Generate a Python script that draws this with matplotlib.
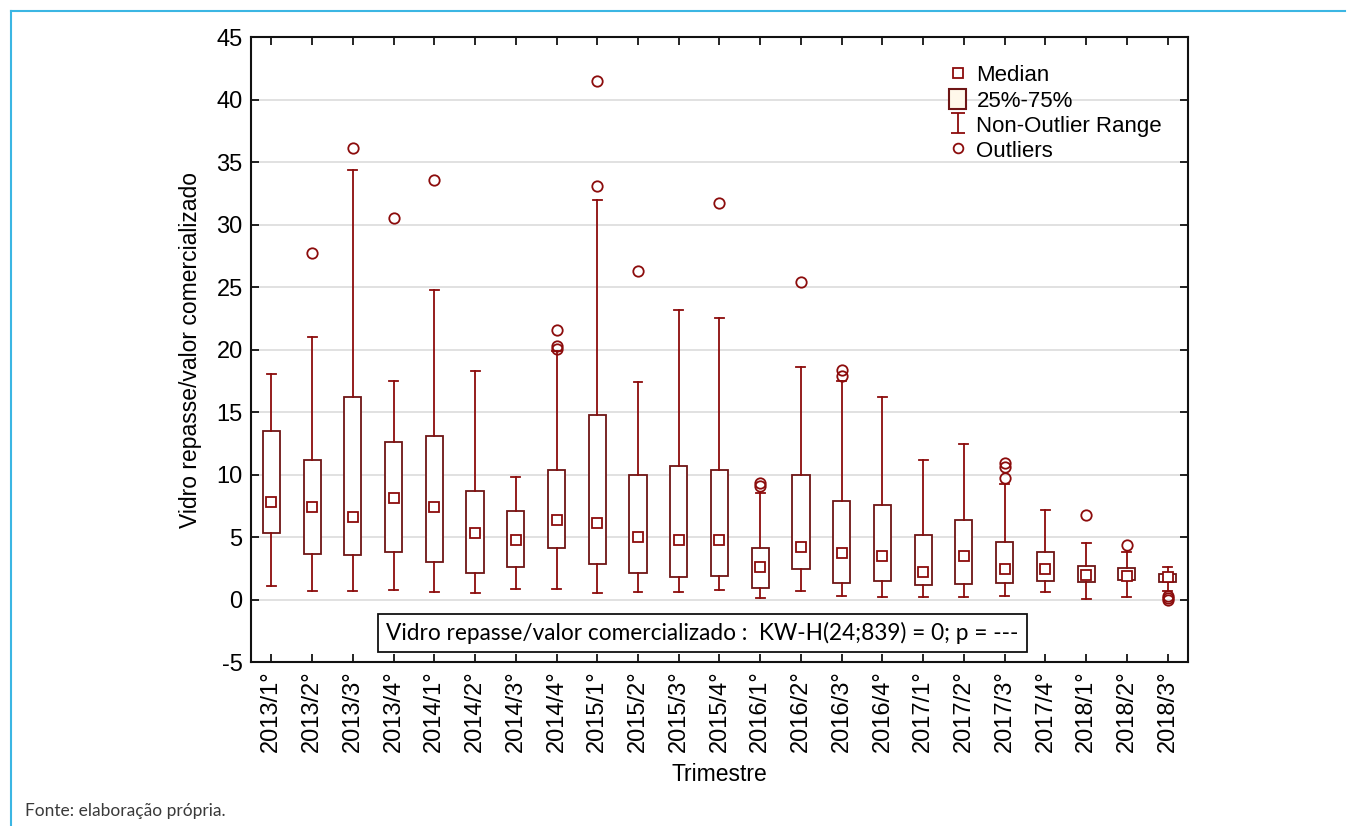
import matplotlib
matplotlib.use("Agg")
import matplotlib.pyplot as plt
from matplotlib.lines import Line2D
from matplotlib.patches import Patch
from matplotlib.path import Path

# quarters
labels = ['2013/1°', '2013/2°', '2013/3°', '2013/4°', '2014/1°', '2014/2°', '2014/3°',
          '2014/4°', '2015/1°', '2015/2°', '2015/3°', '2015/4°', '2016/1°', '2016/2°',
          '2016/3°', '2016/4°', '2017/1°', '2017/2°', '2017/3°', '2017/4°', '2018/1°',
          '2018/2°', '2018/3°']

medians = [7.78, 7.39, 6.63, 8.14, 7.39, 5.36, 4.74, 6.37, 6.11, 5.0, 4.74, 4.74,
           2.61, 4.2, 3.69, 3.46, 2.19, 3.46, 2.42, 2.47, 1.96, 1.91, 1.77]
q1 = [5.33, 3.66, 3.53, 3.82, 3.0, 2.16, 2.61, 4.12, 2.88, 2.16, 1.83, 1.9,
      0.92, 2.42, 1.3, 1.5, 1.18, 1.27, 1.36, 1.48, 1.4, 1.56, 1.42]
q3 = [13.5, 11.18, 16.24, 12.58, 13.1, 8.7, 7.06, 10.4, 14.8, 9.97, 10.65, 10.36,
      4.12, 9.93, 7.9, 7.6, 5.2, 6.34, 4.6, 3.82, 2.69, 2.53, 2.04]
whis_lo = [1.1, 0.65, 0.65, 0.75, 0.62, 0.49, 0.82, 0.85, 0.56, 0.62, 0.62, 0.75,
           0.1, 0.69, 0.26, 0.23, 0.23, 0.2, 0.29, 0.59, 0.03, 0.22, 0.72]
whis_hi = [18.07, 21.0, 34.4, 17.45, 24.8, 18.3, 9.77, 19.9, 31.96, 17.4, 23.2, 22.5,
           8.5, 18.6, 17.45, 16.2, 11.2, 12.45, 9.26, 7.15, 4.52, 3.79, 2.58]
outliers = [[], [27.7], [36.1], [30.5], [33.6], [], [], [21.6, 20.3, 20.05],
            [41.5, 33.1], [26.3], [], [31.7], [9.35, 9.05], [25.4], [18.4, 17.9],
            [], [], [], [10.93, 10.61, 9.73], [], [6.75], [4.35], [0.3, 0.12, 0.0]]

red = '#8c0c0c'
boxc = '#6e1515'

plt.rcParams['font.family'] = ['Liberation Sans', 'DejaVu Sans']
plt.rcParams['axes.unicode_minus'] = False

fig = plt.figure(figsize=(13.58, 8.26), dpi=100)
ax = fig.add_axes([0.1848, 0.1985, 0.69, 0.7567])

stats = []
for i in range(len(labels)):
    stats.append(dict(med=medians[i], q1=q1[i], q3=q3[i], whislo=whis_lo[i],
                      whishi=whis_hi[i], fliers=outliers[i], label=labels[i]))

pos = list(range(len(labels)))
ax.bxp(stats, positions=pos, widths=0.42, capwidths=0.22, patch_artist=True,
       boxprops=dict(facecolor='white', edgecolor=boxc, linewidth=1.3),
       whiskerprops=dict(color=red, linewidth=1.3),
       capprops=dict(color=red, linewidth=1.3),
       medianprops=dict(linewidth=0),
       flierprops=dict(marker='o', markerfacecolor='none', markeredgecolor=red,
                       markersize=7.5, markeredgewidth=1.3),
       zorder=2)
ax.plot(pos, medians, 's', ms=7.5, mfc='white', mec=red, mew=1.3,
        linestyle='none', zorder=4)

ax.set_xlim(-0.5, len(labels) - 0.5)
ax.set_ylim(-5, 45)
ax.set_yticks(range(-5, 46, 5))
ax.set_xticks(pos)
ax.set_xticklabels(labels, rotation=90)
ax.yaxis.grid(True, color='#dcdcdc', linewidth=1.2)
ax.set_axisbelow(True)
ax.tick_params(direction='in', length=6, width=1.2, labelsize=17,
               top=True, right=True, pad=6)
for s in ax.spines.values():
    s.set_linewidth(1.5)
    s.set_color('#111111')

ax.set_ylabel('Vidro repasse/valor comercializado', fontsize=16.5, labelpad=10)
ax.set_xlabel('Trimestre', fontsize=16.5, labelpad=8)

ax.text(0.482, 0.047, 'Vidro repasse/valor comercializado :  KW-H(24;839) = 0; p = ---',
        transform=ax.transAxes, ha='center', va='center', fontsize=16.3,
        family=['Lato', 'DejaVu Sans'],
        bbox=dict(boxstyle='square,pad=0.35', facecolor='white',
                  edgecolor='#111111', linewidth=1.3))

# legend
ibeam = Path([(-0.7, 1), (0.7, 1), (0, 1), (0, -1), (-0.7, -1), (0.7, -1)],
             [Path.MOVETO, Path.LINETO, Path.MOVETO, Path.LINETO, Path.MOVETO, Path.LINETO])
handles = [
    Line2D([], [], marker='s', ms=7, mfc='white', mec=red, mew=1.3, linestyle='none'),
    Patch(facecolor='#fff8ea', edgecolor=boxc, linewidth=1.5),
    Line2D([], [], marker=ibeam, ms=14.5, mec=red, mew=1.3, linestyle='none'),
    Line2D([], [], marker='o', ms=7, mfc='none', mec=red, mew=1.3, linestyle='none'),
]
leg = ax.legend(handles, ['Median', '25%-75%', 'Non-Outlier Range', 'Outliers'],
                loc='upper left', bbox_to_anchor=(0.728, 0.982), frameon=False,
                fontsize=16, handlelength=0.8, handleheight=1.0,
                handletextpad=0.45, labelspacing=0.12, borderpad=0.2)

# outer frame lines
fig.add_artist(Line2D([11 / 1358, 11 / 1358], [0, 1 - 11 / 826], color='#3bb6e3',
                      linewidth=1.5, transform=fig.transFigure))
fig.add_artist(Line2D([11 / 1358, 1345 / 1358], [1 - 11 / 826, 1 - 11 / 826],
                      color='#3bb6e3', linewidth=1.5, transform=fig.transFigure))

fig.text(25 / 1358, 1 - 811 / 826, 'Fonte: elaboração própria.', fontsize=12.5,
         color='#3a3a3a', va='center', ha='left', family=['Lato', 'DejaVu Sans'])

fig.savefig('out.png', dpi=100)
